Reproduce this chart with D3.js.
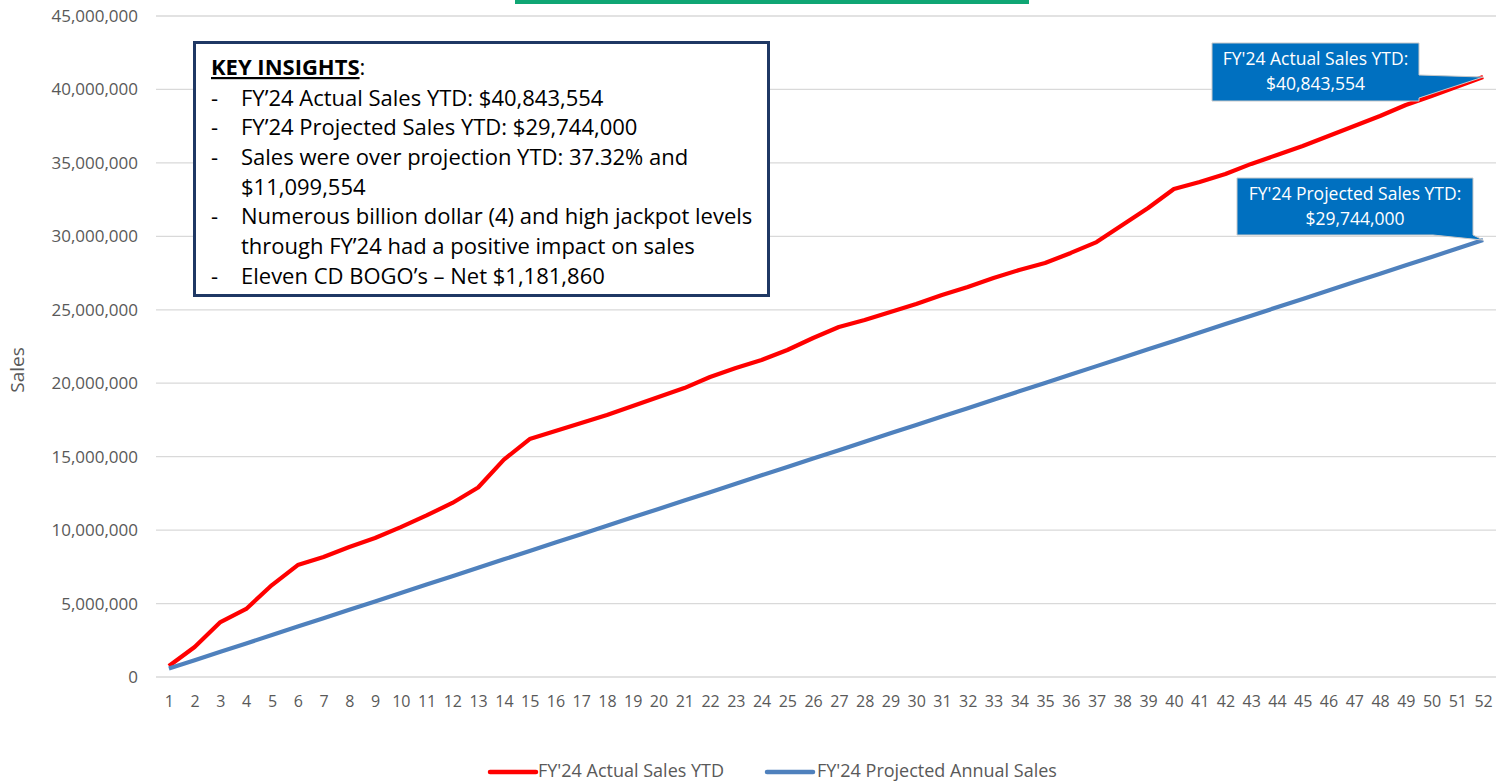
<html>
<meta http-equiv="Content-type" content="text/html;charset=UTF-8">
<head>
<title>FY'24 Sales YTD</title>
<script src="https://cdn.jsdelivr.net/npm/d3@7"></script>
<style>
    body {
        margin: 0;
        background: #ffffff;
        font-family: 'Open Sans', sans-serif;
    }
    #chart svg { display: block; }
</style>
</head>
<body>
<div id="chart"></div>

<script type="text/javascript">
// ***** DATA *****
var weeks = d3.range(1, 53).map(String);

// FY'24 actual sales, cumulative
var actualSales = [
    750000, 2040000, 3740000, 4630000, 6260000, 7620000, 8170000, 8850000, 9460000, 10200000,
    11000000, 11850000, 12900000, 14800000, 16200000, 16750000, 17290000, 17840000, 18450000, 19060000,
    19670000, 20420000, 21040000, 21580000, 22260000, 23080000, 23830000, 24300000, 24850000, 25390000,
    26000000, 26550000, 27160000, 27710000, 28180000, 28870000, 29610000, 30770000, 31930000, 33220000,
    33700000, 34240000, 34930000, 35540000, 36150000, 36830000, 37510000, 38190000, 38940000, 39550000,
    40200000, 40843554
];

// FY'24 projected annual sales, cumulative
var projectedSales = [
    572000, 1144000, 1716000, 2288000, 2860000, 3432000, 4004000, 4576000, 5148000, 5720000,
    6292000, 6864000, 7436000, 8008000, 8580000, 9152000, 9724000, 10296000, 10868000, 11440000,
    12012000, 12584000, 13156000, 13728000, 14300000, 14872000, 15444000, 16016000, 16588000, 17160000,
    17732000, 18304000, 18876000, 19448000, 20020000, 20592000, 21164000, 21736000, 22308000, 22880000,
    23452000, 24024000, 24596000, 25168000, 25740000, 26312000, 26884000, 27456000, 28028000, 28600000,
    29172000, 29744000
];

var yTicks = [0, 5000000, 10000000, 15000000, 20000000, 25000000, 30000000, 35000000, 40000000, 45000000];

var seriesNames = ["FY'24 Actual Sales YTD", "FY'24 Projected Annual Sales"];
var seriesColors = ["#ff0000", "#4f81bd"];

var insightLines = [
    "FY\u201924 Actual Sales YTD: $40,843,554",
    "FY\u201924 Projected Sales YTD: $29,744,000",
    "Sales were over projection YTD: 37.32% and",
    "$11,099,554",
    "Numerous billion dollar (4) and high jackpot levels",
    "through FY\u201924 had a positive impact on sales",
    "Eleven CD BOGO\u2019s \u2013 Net $1,181,860"
];
var insightDash = [true, true, true, false, true, false, true];

var calloutActual = ["FY'24 Actual Sales YTD:", "$40,843,554"];
var calloutProjected = ["FY'24 Projected Sales YTD:", "$29,744,000"];

// ***** CHART *****
var width = 1503, height = 781;
var plotLeft = 156, plotRight = 1496, plotTop = 16, plotBottom = 677;
var axisGrey = "#595959";

var svg = d3.select('#chart')
    .append('svg')
    .attr('width', width)
    .attr('height', height);

var x = d3.scalePoint()
    .domain(weeks)
    .range([plotLeft, plotRight])
    .padding(0.5);

var y = d3.scaleLinear()
    .domain([0, 45000000])
    .range([plotBottom, plotTop]);

// green bar cut off at top (title box edge)
svg.append('rect')
    .attr('x', 515).attr('y', 0)
    .attr('width', 514).attr('height', 4)
    .attr('fill', '#10a674');

// gridlines
svg.append('g')
    .selectAll('line')
    .data(yTicks)
    .enter()
    .append('line')
    .attr('x1', plotLeft).attr('x2', plotRight)
    .attr('y1', function(d) { return y(d); })
    .attr('y2', function(d) { return y(d); })
    .attr('stroke', '#d9d9d9')
    .attr('stroke-width', 1.3);

// y axis labels
var yAxis = svg.append('g')
    .attr('transform', 'translate(' + (plotLeft - 18) + ',0)')
    .call(d3.axisLeft(y).tickValues(yTicks).tickFormat(d3.format(',')).tickSize(0).tickPadding(0));
yAxis.select('.domain').remove();
yAxis.selectAll('text')
    .attr('fill', axisGrey)
    .style('font-family', "'Open Sans', sans-serif")
    .style('font-size', '17px');

// x axis labels
var xAxis = svg.append('g')
    .attr('transform', 'translate(0,' + plotBottom + ')')
    .call(d3.axisBottom(x).tickSize(0).tickPadding(19));
xAxis.select('.domain').remove();
xAxis.selectAll('text')
    .attr('fill', axisGrey)
    .style('font-family', "'Open Sans', sans-serif")
    .style('font-size', '16px');

// y axis title
svg.append('text')
    .attr('transform', 'translate(24,370) rotate(-90)')
    .attr('text-anchor', 'middle')
    .attr('fill', axisGrey)
    .style('font-size', '19px')
    .text('Sales');

// lines
var line = d3.line()
    .x(function(d, i) { return x(weeks[i]); })
    .y(function(d) { return y(d); });

[actualSales, projectedSales].forEach(function(series, k) {
    svg.append('path')
        .datum(series)
        .attr('d', line)
        .attr('fill', 'none')
        .attr('stroke', seriesColors[k])
        .attr('stroke-width', 4.2)
        .attr('stroke-linejoin', 'round');
});

// key insights box
var box = svg.append('g');
box.append('rect')
    .attr('x', 194.5).attr('y', 42.5)
    .attr('width', 574).attr('height', 253)
    .attr('fill', '#ffffff')
    .attr('stroke', '#1f3864')
    .attr('stroke-width', 3);

var head = box.append('text')
    .attr('x', 211).attr('y', 75)
    .attr('fill', '#000000')
    .style('font-size', '22px');
head.append('tspan')
    .attr('font-weight', 'bold')
    .attr('text-decoration', 'underline')
    .text('KEY INSIGHTS');
head.append('tspan').text(':');

insightLines.forEach(function(t, i) {
    var by = 105.5 + i * 29.7;
    if (insightDash[i]) {
        box.append('text')
            .attr('x', 211).attr('y', by)
            .style('font-size', '22px')
            .text('-');
    }
    box.append('text')
        .attr('x', 241).attr('y', by)
        .style('font-size', '22px')
        .text(t);
});

// callouts
function callout(pathD, lines, cx, cy) {
    var g = svg.append('g');
    g.append('path')
        .attr('d', pathD)
        .attr('fill', '#0070c0')
        .attr('stroke', '#c9c9c9')
        .attr('stroke-width', 1);
    lines.forEach(function(t, i) {
        g.append('text')
            .attr('x', cx).attr('y', cy + i * 25)
            .attr('text-anchor', 'middle')
            .attr('dominant-baseline', 'middle')
            .attr('fill', '#ffffff')
            .style('font-size', '17.5px')
            .text(t);
    });
}

var tipA = [x(weeks[51]), y(actualSales[51])];
callout('M1212,43 H1419 V75 L' + tipA[0] + ',' + tipA[1] + ' L1419,98 V101 H1212 Z',
    calloutActual, 1315.5, 60);

var tipP = [x(weeks[51]), y(projectedSales[51])];
callout('M1237,178 H1473 V235 L' + tipP[0] + ',' + tipP[1] + ' L1433,235 H1237 Z',
    calloutProjected, 1355, 195);

// legend
var legend = svg.append('g');
var legendX = [490, 767];
var legendTextX = [538, 817];
seriesNames.forEach(function(name, k) {
    legend.append('line')
        .attr('x1', legendX[k]).attr('x2', legendX[k] + 46)
        .attr('y1', 772).attr('y2', 772)
        .attr('stroke', seriesColors[k])
        .attr('stroke-width', 4.5)
        .attr('stroke-linecap', 'round');
    legend.append('text')
        .attr('x', legendTextX[k]).attr('y', 772)
        .attr('dominant-baseline', 'middle')
        .attr('fill', axisGrey)
        .style('font-size', '18px')
        .text(name);
});
</script>
</body>
</html>
